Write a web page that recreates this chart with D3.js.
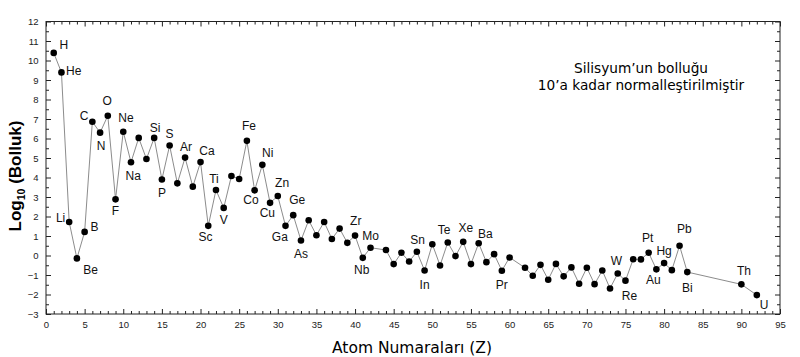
<!DOCTYPE html>
<html>
<head>
<meta charset="utf-8">
<script src="https://cdn.jsdelivr.net/npm/d3@7"></script>
<style>
  html, body { margin: 0; padding: 0; background: #fff; }
  svg { display: block; }
</style>
</head>
<body>
<svg id="chart" width="800" height="357"></svg>
<script>
// ---------------- DATA ----------------
const atomicNumbers = [1,2,3,4,5,6,7,8,9,10,11,12,13,14,15,16,17,18,19,20,
  21,22,23,24,25,26,27,28,29,30,31,32,33,34,35,36,37,38,39,40,41,42,
  44,45,46,47,48,49,50,51,52,53,54,55,56,57,58,59,60,
  62,63,64,65,66,67,68,69,70,71,72,73,74,75,76,77,78,79,80,81,82,83,90,92];
const symbols = ["H","He","Li","Be","B","C","N","O","F","Ne","Na","Mg","Al","Si","P","S","Cl","Ar","K","Ca",
  "Sc","Ti","V","Cr","Mn","Fe","Co","Ni","Cu","Zn","Ga","Ge","As","Se","Br","Kr","Rb","Sr","Y","Zr","Nb","Mo",
  "Ru","Rh","Pd","Ag","Cd","In","Sn","Sb","Te","I","Xe","Cs","Ba","La","Ce","Pr","Nd",
  "Sm","Eu","Gd","Tb","Dy","Ho","Er","Tm","Yb","Lu","Hf","Ta","W","Re","Os","Ir","Pt","Au","Hg","Tl","Pb","Bi","Th","U"];
const logAbundance = [10.39,9.39,1.72,-0.15,1.21,6.86,6.30,7.17,2.88,6.35,4.78,6.03,4.95,6.03,3.90,5.64,3.70,5.02,3.53,4.79,
  1.52,3.36,2.44,4.08,3.92,5.88,3.34,4.65,2.70,3.05,1.52,2.07,0.77,1.81,1.04,1.72,0.85,1.38,0.65,1.02,-0.12,0.40,
  0.28,-0.44,0.14,-0.31,0.19,-0.77,0.58,-0.51,0.67,-0.03,0.70,-0.44,0.63,-0.34,0.07,-0.78,-0.10,
  -0.63,-1.04,-0.48,-1.24,-0.43,-1.07,-0.61,-1.45,-0.63,-1.47,-0.77,-1.69,-0.92,-1.29,-0.19,-0.20,0.14,-0.71,-0.39,-0.75,0.50,-0.85,-1.48,-2.03];
const labeledSymbols = ["H","He","Li","Be","B","C","N","O","F","Ne","Na","Si","P","S","Ar","Ca","Sc","Ti","V",
  "Fe","Co","Ni","Cu","Zn","Ga","Ge","As","Zr","Nb","Mo","In","Sn","Te","Xe","Ba","Pr","W","Re","Pt","Au","Hg","Pb","Bi","Th","U"];
const xTickLabels = d3.range(0, 96, 5);
const yTickLabels = d3.range(-3, 13, 1);
const xTitle = "Atom Numaraları (Z)";
const yTitleMain = "Log", yTitleSub = "10", yTitleRest = " (Bolluk)";
const noteLines = ["Silisyum’un bolluğu", "10’a kadar normalleştirilmiştir"];

// ---------------- STYLE / LAYOUT ----------------
const labelOffsets = {
  H:[10,-8.4], He:[12.3,-2], Li:[-8.6,-4.3], Be:[13.7,11.6], B:[10,-5.7], C:[-8.3,-6], N:[1,12.6], O:[-0.7,-15],
  F:[0,11.7], Ne:[2.7,-14.4], Na:[2.3,13.4], Si:[1,-10.4], P:[0,13.7], S:[0,-11.6], Ar:[1,-10.6], Ca:[6.4,-11.3],
  Sc:[-2.7,11], Ti:[-2,-11.3], V:[0,11.3], Fe:[2,-15.4], Co:[-3.7,9.7], Ni:[5.4,-12], Cu:[-2.7,10.3], Zn:[4.3,-13.3],
  Ga:[-5.7,10.7], Ge:[4,-15], As:[0,13.6], Zr:[0.7,-15.4], Nb:[-1,11.7], Mo:[0,-11.7], In:[0,14], Sn:[-14.7,-5],
  Te:[-3.7,-12.4], Xe:[2.7,-14.3], Ba:[6.6,-10], Pr:[0,14.3], W:[-1.3,-12.7], Re:[4,15.3], Pt:[-1,-14.7],
  Au:[-3,10.3], Hg:[0,-12], Pb:[4.7,-16.7], Bi:[0,15.4], Th:[2.6,-13.7], U:[7.3,9.7]
};
const plot = {left: 46, right: 780, top: 21.5, bottom: 314};
const sansFont = "'Liberation Sans', Arial, sans-serif";
const verdanaFont = "'DejaVu Sans', Verdana, sans-serif";

const svg = d3.select("#chart");
const x = d3.scaleLinear().domain([0, 95]).range([plot.left, plot.right]);
const y = d3.scaleLinear().domain([-3, 12]).range([plot.bottom, plot.top]);

const data = atomicNumbers.map((z, i) => ({z, sym: symbols[i], v: logAbundance[i]}));

// axes (inward ticks on all four sides)
function styleAxis(g) {
  g.select(".domain").remove();
  g.selectAll(".tick line").attr("stroke", "#222").attr("stroke-width", 1);
  g.selectAll(".tick text").attr("fill", "#222").style("font-family", sansFont).style("font-size", "9.5px");
}
const minorX = d3.range(0, 96, 1).filter(v => v % 5 !== 0);
const minorY = d3.range(-3, 12.01, 0.5).filter(v => v % 1 !== 0);

svg.append("g").attr("transform", `translate(0,${plot.bottom})`)
  .call(d3.axisBottom(x).tickValues(xTickLabels).tickSize(-5).tickPadding(7.5).tickFormat(d3.format("d"))).call(styleAxis);
svg.append("g").attr("transform", `translate(0,${plot.bottom})`)
  .call(d3.axisBottom(x).tickValues(minorX).tickSize(-3).tickFormat("")).call(styleAxis);
svg.append("g").attr("transform", `translate(0,${plot.top})`)
  .call(d3.axisTop(x).tickValues(xTickLabels).tickSize(-5).tickFormat("")).call(styleAxis);
svg.append("g").attr("transform", `translate(0,${plot.top})`)
  .call(d3.axisTop(x).tickValues(minorX).tickSize(-3).tickFormat("")).call(styleAxis);
svg.append("g").attr("transform", `translate(${plot.left},0)`)
  .call(d3.axisLeft(y).tickValues(yTickLabels).tickSize(-5).tickPadding(7.5).tickFormat(d3.format("d"))).call(styleAxis);
svg.append("g").attr("transform", `translate(${plot.left},0)`)
  .call(d3.axisLeft(y).tickValues(minorY).tickSize(-3).tickFormat("")).call(styleAxis);
svg.append("g").attr("transform", `translate(${plot.right},0)`)
  .call(d3.axisRight(y).tickValues(yTickLabels).tickSize(-5).tickFormat("")).call(styleAxis);
svg.append("g").attr("transform", `translate(${plot.right},0)`)
  .call(d3.axisRight(y).tickValues(minorY).tickSize(-3).tickFormat("")).call(styleAxis);

// frame
svg.append("rect")
  .attr("x", plot.left).attr("y", plot.top)
  .attr("width", plot.right - plot.left).attr("height", plot.bottom - plot.top)
  .attr("fill", "none").attr("stroke", "#222").attr("stroke-width", 1);

// connecting line
svg.append("path").datum(data)
  .attr("d", d3.line().x(d => x(d.z)).y(d => y(d.v)))
  .attr("fill", "none").attr("stroke", "#8c8c8c").attr("stroke-width", 1);

// points
svg.append("g").selectAll("circle").data(data).join("circle")
  .attr("cx", d => x(d.z)).attr("cy", d => y(d.v)).attr("r", 3.3).attr("fill", "#000");

// element labels
svg.append("g").selectAll("text").data(data.filter(d => labeledSymbols.includes(d.sym))).join("text")
  .attr("x", d => x(d.z) + labelOffsets[d.sym][0])
  .attr("y", d => y(d.v) + labelOffsets[d.sym][1])
  .attr("dy", "0.36em")
  .attr("text-anchor", "middle")
  .style("font-family", sansFont).style("font-size", "12px").attr("fill", "#111")
  .text(d => d.sym);

// x title
svg.append("text").attr("x", 412).attr("y", 353).attr("text-anchor", "middle")
  .style("font-family", verdanaFont).style("font-size", "15.5px").attr("fill", "#000").text(xTitle);

// y title
const yt = svg.append("text").attr("transform", "translate(21,176) rotate(-90)").attr("text-anchor", "middle")
  .style("font-family", sansFont).style("font-size", "17px").style("font-weight", "bold").attr("fill", "#000");
yt.append("tspan").text(yTitleMain);
yt.append("tspan").attr("dy", "4").style("font-size", "10.5px").text(yTitleSub);
yt.append("tspan").attr("dy", "-4").text(yTitleRest);

// note
svg.append("g").selectAll("text").data(noteLines).join("text")
  .attr("x", 641).attr("y", (d, i) => 73 + i * 16.5).attr("text-anchor", "middle")
  .style("font-family", verdanaFont).style("font-size", "13.7px").attr("fill", "#000")
  .text(d => d);
</script>
</body>
</html>
